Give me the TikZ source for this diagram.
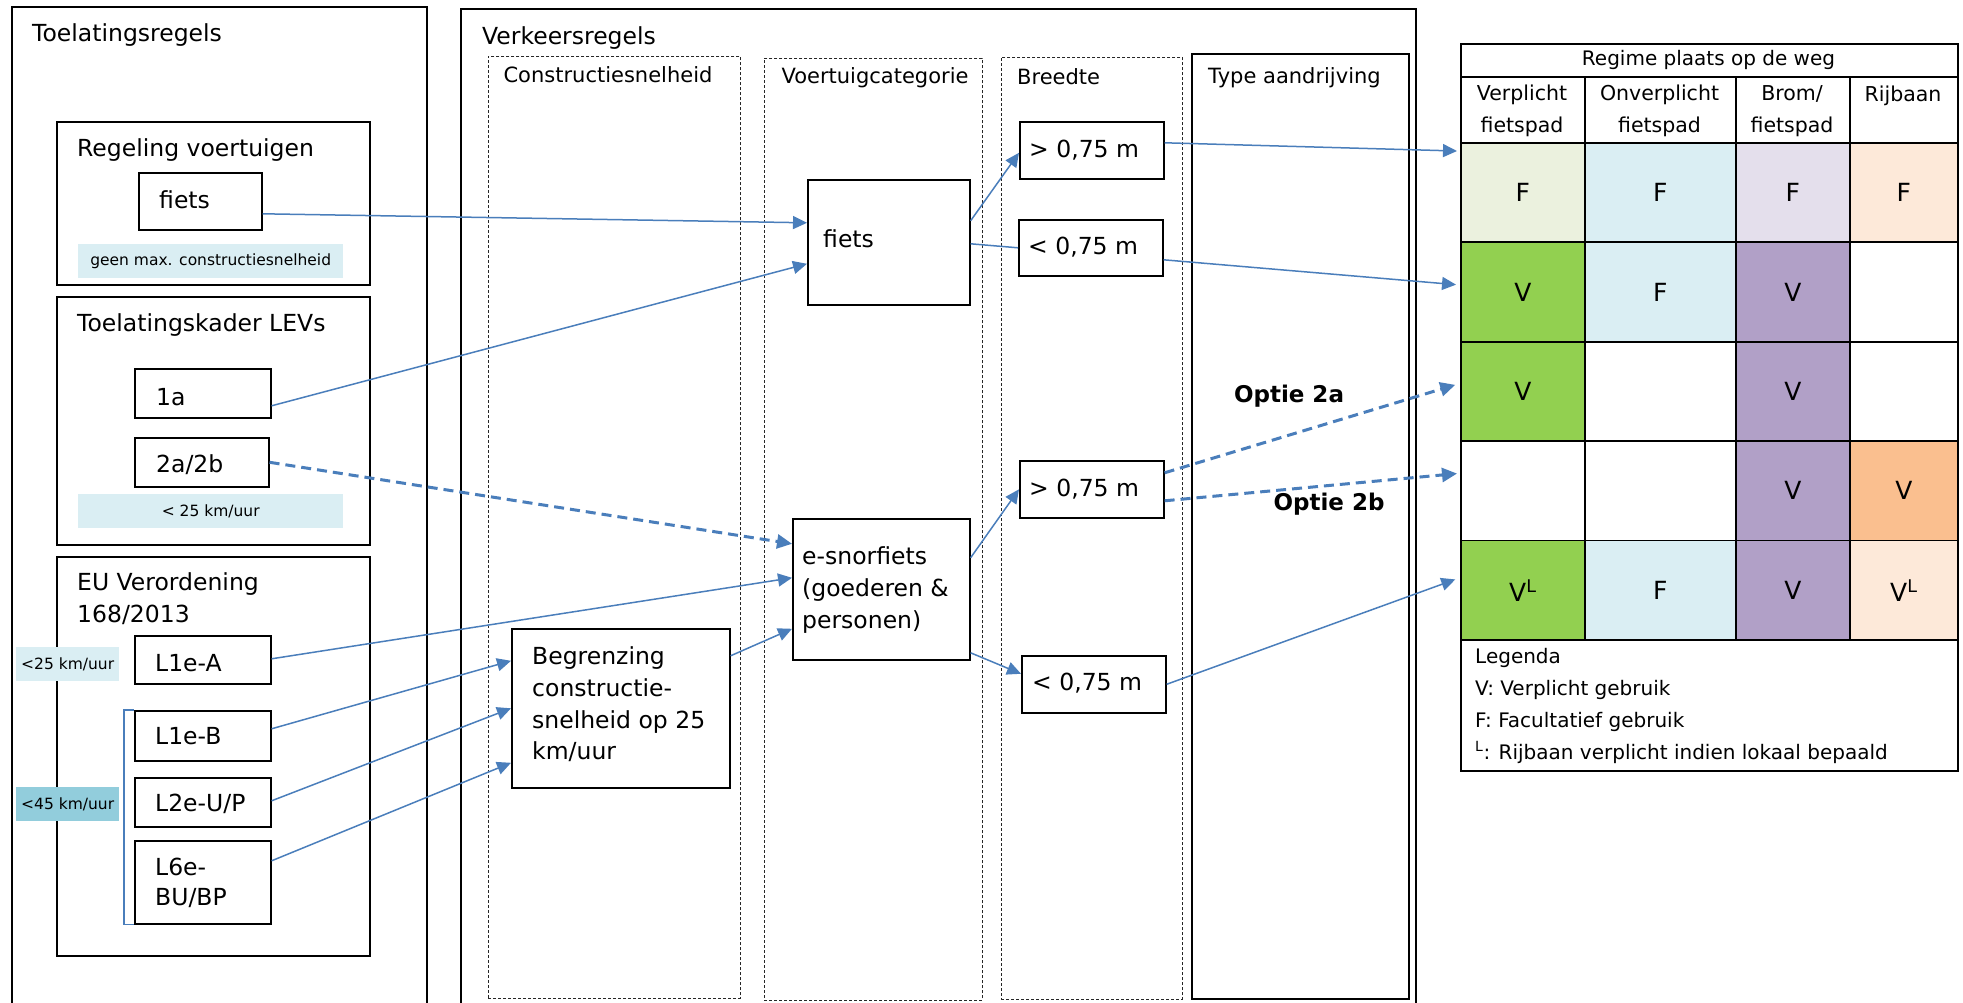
\documentclass[tikz,border=0pt]{standalone}
\usepackage{fontspec}
\setmainfont{DejaVu Sans}
\usetikzlibrary{arrows.meta}
\definecolor{arr}{HTML}{4A7EBB}
\definecolor{bandA}{HTML}{DAEEF3}
\definecolor{bandB}{HTML}{92CDDC}
\definecolor{lgreen}{HTML}{EBF1DE}
\definecolor{lblue}{HTML}{DAEEF3}
\definecolor{llav}{HTML}{E4DFEC}
\definecolor{lpeach}{HTML}{FDE9D9}
\definecolor{dgreen}{HTML}{92D050}
\definecolor{dpurp}{HTML}{B1A0C7}
\definecolor{dorange}{HTML}{FABF8F}
\newcommand\FntBig{\fontsize{23.5}{32}\selectfont}
\newcommand\FntCol{\fontsize{21}{28}\selectfont}
\newcommand\FntTab{\fontsize{20.5}{32}\selectfont}
\newcommand\FntSm{\fontsize{15.5}{20}\selectfont}
\newcommand\FntCell{\fontsize{25}{30}\selectfont}
\tikzset{
  bx/.style={draw=black, line width=1.6pt, inner sep=0pt, anchor=north west},
  dcol/.style={draw=black!85, line width=0.8pt, dash pattern=on 3pt off 2pt, inner sep=0pt, anchor=north west},
  band/.style={fill=#1, inner sep=0pt, anchor=north west, font=\FntSm},
  txt/.style={inner sep=0pt, anchor=west, font=\FntBig, align=left},
  coltitle/.style={inner sep=0pt, font=\FntCol},
  cell/.style={draw=black, line width=1.8pt, fill=#1, inner sep=0pt, anchor=north west, font=\FntCell},
  tabtxt/.style={inner sep=0pt, font=\FntTab, align=center},
  con/.style={draw=arr, line width=1.5pt, -{Triangle[length=14pt,width=13pt]}},
  plain/.style={draw=arr, line width=1.5pt},
  dcon/.style={draw=arr, line width=3pt, dash pattern=on 10pt off 6pt, -{Triangle[length=15pt,width=14pt]}},
}
\begin{document}
\begin{tikzpicture}[x=1pt,y=-1pt]
\useasboundingbox (0,0) rectangle (1963,1003);
\fill[white] (0,0) rectangle (1963,1003);

% ---------- Toelatingsregels ----------
\draw[line width=1.6pt] (12,1010) -- (12,7) -- (427,7) -- (427,1010);
\node[txt] (t1) at (32,35) {Toelatingsregels};

\node[bx, minimum width=313, minimum height=163] (rv) at (56,121) {};
\node[txt] (rvt) at (77,150) {Regeling voertuigen};
\node[bx, minimum width=123, minimum height=57] (fa) at (138,172) {};
\node[txt] (fat) at (159,200) {fiets};
\node[band=bandA, minimum width=265, minimum height=34] (b1) at (78,244) {geen max. constructiesnelheid};

\node[bx, minimum width=313, minimum height=248] (lev) at (56,296) {};
\node[txt] (levt) at (77,325) {Toelatingskader LEVs};
\node[bx, minimum width=136, minimum height=49] (ia) at (134,368) {};
\node[txt] (iat) at (156,397) {1a};
\node[bx, minimum width=134, minimum height=49] (iib) at (134,437) {};
\node[txt] (iibt) at (156,465) {2a/2b};
\node[band=bandA, minimum width=265, minimum height=34] (b2) at (78,494) {< 25 km/uur};

\node[bx, minimum width=313, minimum height=399] (eu) at (56,556) {};
\node[txt] (eut) at (77,599) {EU Verordening\\168/2013};
\node[bx, minimum width=136, minimum height=48] (la) at (134,635) {};
\node[txt] (lat) at (155,663) {L1e-A};
\node[bx, minimum width=136, minimum height=50] (lb) at (134,710) {};
\node[txt] (lbt) at (155,736) {L1e-B};
\node[bx, minimum width=136, minimum height=49] (lu) at (134,777) {};
\node[txt] (lut) at (155,804) {L2e-U/P};
\node[bx, minimum width=136, minimum height=83] (lsix) at (134,840) {};
\node[txt, font=\fontsize{23.5}{30}\selectfont] (lsixt) at (155,883) {L6e-\\BU/BP};
\node[band=bandA, minimum width=103, minimum height=34] (b25) at (16,647) {<25 km/uur};
\node[band=bandB, minimum width=103, minimum height=34] (b45) at (16,787) {<45 km/uur};
\draw[plain] (lb.north west) -- ++(-10,0) |- (lsix.south west);

% ---------- Verkeersregels ----------
\draw[line width=1.6pt] (461,1010) -- (461,9) -- (1416,9) -- (1416,1010);
\node[txt] (vt) at (482,38) {Verkeersregels};

\node[dcol, minimum width=252, minimum height=942] (col1) at (488,56) {};
\node[coltitle] (col1t) at (608,75) {Constructiesnelheid};
\node[dcol, minimum width=218, minimum height=942] (col2) at (764,58) {};
\node[coltitle] (col2t) at (875,78) {Voertuigcategorie};
\node[dcol, minimum width=181, minimum height=942] (col3) at (1001,57) {};
\node[coltitle, anchor=west] (col3t) at (1017,77) {Breedte};
\node[bx, minimum width=217, minimum height=945] (col4) at (1191,53) {};
\node[coltitle, anchor=west] (col4t) at (1208,78) {Type aandrijving};

\node[bx, minimum width=162, minimum height=125] (fb) at (807,179) {};
\node[txt] (fbt) at (823,239) {fiets};
\node[bx, minimum width=177, minimum height=141] (es) at (792,518) {};
\node[txt] (est) at (802,590) {e-snorfiets\\(goederen \&\\personen)};
\node[bx, minimum width=218, minimum height=159] (bg) at (511,628) {};
\node[txt, font=\fontsize{23.5}{31.7}\selectfont] (bgt) at (532,704.5) {Begrenzing\\constructie-\\snelheid op 25\\km/uur};

\node[bx, minimum width=144, minimum height=57] (wa) at (1019,121) {};
\node[txt] (wat) at (1029,150) {> 0,75 m};
\node[bx, minimum width=144, minimum height=56] (wb) at (1018,219) {};
\node[txt] (wbt) at (1028,247) {< 0,75 m};
\node[bx, minimum width=144, minimum height=57] (wc) at (1019,460) {};
\node[txt] (wct) at (1029,489) {> 0,75 m};
\node[bx, minimum width=144, minimum height=57] (wd) at (1021,655) {};
\node[txt] (wdt) at (1032,683) {< 0,75 m};

\node[inner sep=0pt, font=\bfseries\fontsize{23}{28}\selectfont] (o2a) at (1289,396) {Optie 2a};
\node[inner sep=0pt, font=\bfseries\fontsize{23}{28}\selectfont] (o2b) at (1329,504) {Optie 2b};

% ---------- Table ----------
\node[cell=white, minimum width=497, minimum height=33] (hdr) at (1460,43) {};
\node[tabtxt, font=\fontsize{20}{28}\selectfont] (hdrt) at (1708.5,60) {Regime plaats op de weg};
\node[cell=white, minimum width=124, minimum height=66] (h1) at (1460,76) {};
\node[cell=white, minimum width=151, minimum height=66] (h2) at (1584,76) {};
\node[cell=white, minimum width=114, minimum height=66] (h3) at (1735,76) {};
\node[cell=white, minimum width=108, minimum height=66] (h4) at (1849,76) {};
\node[tabtxt] (h1t) at (1522,111) {Verplicht\\fietspad};
\node[tabtxt] (h2t) at (1659.5,111) {Onverplicht\\fietspad};
\node[tabtxt] (h3t) at (1792,111) {Brom/\\fietspad};
\node[tabtxt] (h4t) at (1903,96) {Rijbaan};

% row 1
\node[cell=lgreen, minimum width=124, minimum height=99.4] (c11) at (1460,142) {F};
\node[cell=lblue, minimum width=151, minimum height=99.4] (c12) at (1584,142) {F};
\node[cell=llav, minimum width=114, minimum height=99.4] (c13) at (1735,142) {F};
\node[cell=lpeach, minimum width=108, minimum height=99.4] (c14) at (1849,142) {F};
% row 2
\node[cell=dgreen, minimum width=124, minimum height=99.4] (c21) at (1460,241.4) {V};
\node[cell=lblue, minimum width=151, minimum height=99.4] (c22) at (1584,241.4) {F};
\node[cell=dpurp, minimum width=114, minimum height=99.4] (c23) at (1735,241.4) {V};
\node[cell=white, minimum width=108, minimum height=99.4] (c24) at (1849,241.4) {};
% row 3
\node[cell=dgreen, minimum width=124, minimum height=99.4] (c31) at (1460,340.8) {V};
\node[cell=white, minimum width=151, minimum height=99.4] (c32) at (1584,340.8) {};
\node[cell=dpurp, minimum width=114, minimum height=99.4] (c33) at (1735,340.8) {V};
\node[cell=white, minimum width=108, minimum height=99.4] (c34) at (1849,340.8) {};
% row 4
\node[cell=white, minimum width=124, minimum height=99.4] (c41) at (1460,440.2) {};
\node[cell=white, minimum width=151, minimum height=99.4] (c42) at (1584,440.2) {};
\node[cell=dpurp, minimum width=114, minimum height=99.4] (c43) at (1735,440.2) {V};
\node[cell=dorange, minimum width=108, minimum height=99.4] (c44) at (1849,440.2) {V};
% row 5
\node[cell=dgreen, minimum width=124, minimum height=99.4] (c51) at (1460,539.6) {V\textsuperscript{L}};
\node[cell=lblue, minimum width=151, minimum height=99.4] (c52) at (1584,539.6) {F};
\node[cell=dpurp, minimum width=114, minimum height=99.4] (c53) at (1735,539.6) {V};
\node[cell=lpeach, minimum width=108, minimum height=99.4] (c54) at (1849,539.6) {V\textsuperscript{L}};
% legend
\node[cell=white, minimum width=497, minimum height=131] (leg) at (1460,639) {};
\node[txt, font=\fontsize{20}{32}\selectfont] (legt) at (1475,706) {Legenda\\V: Verplicht gebruik\\F: Facultatief gebruik\\\textsuperscript{L}: Rijbaan verplicht indien lokaal bepaald};

% ---------- Connectors ----------
\draw[con] ([yshift=-12.5pt]fa.east) -- ([yshift=19.5pt]fb.west);
\draw[con] ([yshift=-12.5pt]ia.east) -- ([yshift=-21.5pt]fb.west);
\draw[dcon] (iib.east) -- ([yshift=45.5pt]es.west);
\draw[con] ([yshift=1pt]la.east) -- ([yshift=11.5pt]es.west);
\draw[con] ([yshift=7pt]lb.east) -- ([yshift=47.5pt]bg.west);
\draw[con] ([yshift=1.5pt]lu.east) -- (bg.west);
\draw[con] ([yshift=21.5pt]lsix.east) -- ([yshift=-54.5pt]bg.west);
\draw[con] ([yshift=52.5pt]bg.east) -- ([yshift=-39.5pt]es.west);
\draw[con] ([yshift=21.5pt]fb.east) -- ([yshift=-2.5pt]wa.west);
\draw[plain] ([yshift=-1.5pt]fb.east) -- (wb.west);
\draw[con] ([yshift=31.5pt]es.east) -- (wc.west);
\draw[con] ([yshift=-63.5pt]es.east) -- ([yshift=10.5pt]wd.west);
\draw[con, shorten >=3pt] ([yshift=7.5pt]wa.east) -- ([yshift=41.5pt]c11.west);
\draw[con, shorten >=4pt] ([yshift=-12pt]wb.east) -- ([yshift=7pt]c21.west);
\draw[dcon, shorten >=5pt] ([yshift=16.5pt]wc.east) -- ([yshift=8pt]c31.west);
\draw[dcon, shorten >=3pt] ([yshift=-11.5pt]wc.east) -- ([yshift=17.5pt]c41.west);
\draw[con, shorten >=5pt] (wd.east) -- ([yshift=12.5pt]c51.west);
\end{tikzpicture}
\end{document}
